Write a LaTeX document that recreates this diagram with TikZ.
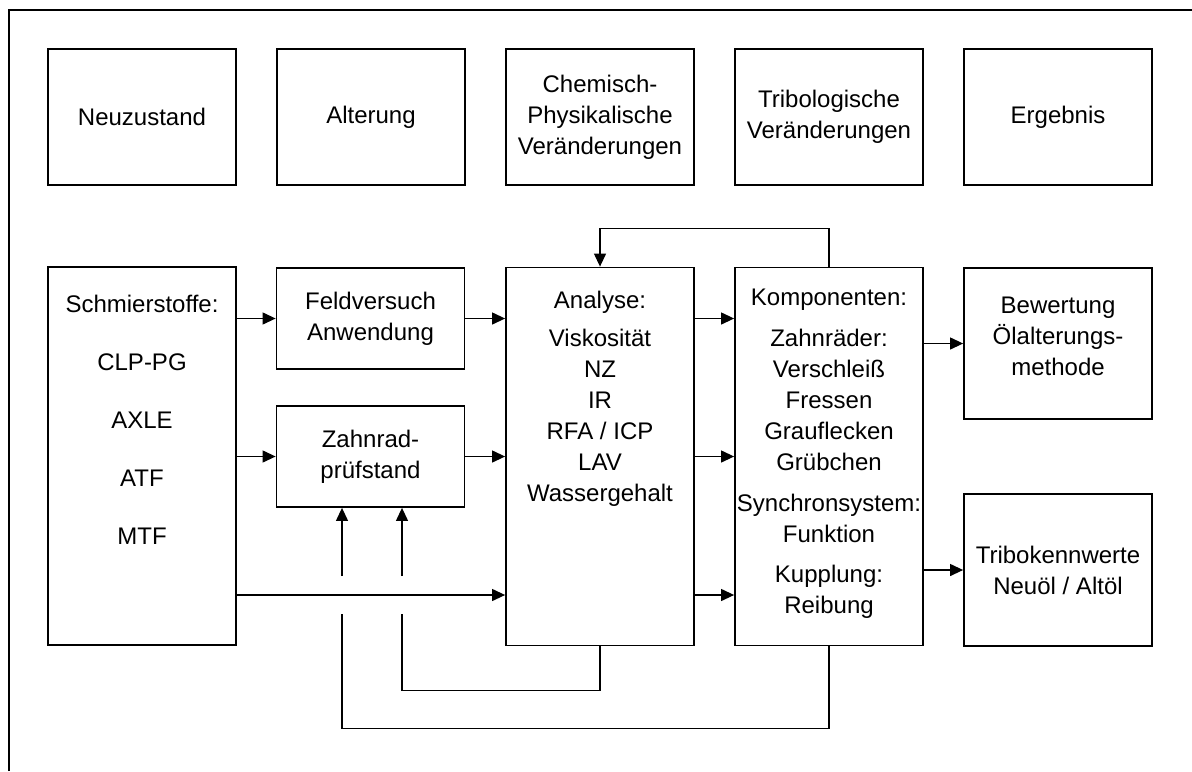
\documentclass[tikz,border=0pt]{standalone}
\usepackage{fontspec}
\setmainfont{Liberation Sans}
\usetikzlibrary{arrows.meta}

\begin{document}
\begin{tikzpicture}[x=0.5pt,y=-0.5pt,
    every node/.style={font=\fontsize{12}{15.5}\selectfont, align=center, inner sep=0pt},
    box/.style={draw, line width=0.9pt, minimum width=94pt},
    kopf/.style={box, minimum height=68pt},
    klein/.style={box, minimum height=50.5pt},
    hoch/.style={box, minimum height=189pt},
    arr/.style={line width=0.6pt, -{Triangle[length=6.5pt,width=6pt]}},
    lin/.style={line width=0.6pt}]
  \useasboundingbox (0,0) rectangle (1192,771);
  \draw[line width=0.7pt] (9,771) -- (9,10) -- (1192,10);

  % Kopfzeile
  \node[kopf] (neu)   at (142,117)  {Neuzustand};
  \node[kopf] (alt)   at (371,117)  {Alterung};
  \node[kopf] (chem)  at (600,117)  {Chemisch-\\Physikalische\\Veränderungen};
  \node[kopf] (tribo) at (829,117)  {Tribologische\\Veränderungen};
  \node[kopf] (erg)   at (1058,117) {Ergebnis};

  % Ablauf
  \node[hoch] (schmier) at (142,456) {};
  \node (schmiertxt) at (142,420) {Schmierstoffe:\\[13.5pt] CLP-PG\\[13.5pt] AXLE\\[13.5pt] ATF\\[13.5pt] MTF};
  \node[klein] (feld) at (370.5,318.5) {Feldversuch\\Anwendung};
  \node[klein] (zahn) at (370.5,456.5) {Zahnrad-\\prüfstand};
  \node[hoch] (analyse) at (600,456.5) {};
  \node (analysetxt) at (600,399) {Analyse:\\[3.5pt] Viskosität\\NZ\\IR\\RFA / ICP\\LAV\\Wassergehalt};
  \node[hoch] (komp) at (829,456.5) {};
  \node (komptxt) at (829,454) {Komponenten:\\[5pt] Zahnräder:\\Verschleiß\\Fressen\\Grauflecken\\Grübchen\\[5pt] Synchronsystem:\\Funktion\\[4.5pt] Kupplung:\\Reibung};
  \node[box, minimum height=75.5pt] (bew) at (1058,343.5) {};
  \node (bewtxt) at (1058,336) {Bewertung\\Ölalterungs-\\methode};
  \node[box, minimum height=76pt] (kenn) at (1058,570) {Tribokennwerte\\Neuöl / Altöl};

  \coordinate (reihe3) at (0,595);
  \coordinate (j1hi) at (402,576);
  \coordinate (j1lo) at (402,614);
  \coordinate (j2hi) at (342,576);
  \coordinate (j2lo) at (342,614);

  \draw[arr] (schmier.east |- feld) -- (feld);
  \draw[arr] (schmier.east |- zahn) -- (zahn);
  \draw[arr] (schmier.east |- reihe3) -- (analyse.west |- reihe3);
  \draw[arr] (feld) -- (analyse.west |- feld);
  \draw[arr] (zahn) -- (analyse.west |- zahn);
  \draw[arr] (analyse.east |- feld) -- (komp.west |- feld);
  \draw[arr] (analyse.east |- zahn) -- (komp.west |- zahn);
  \draw[arr] (analyse.east |- reihe3) -- (komp.west |- reihe3);
  \draw[arr] (komp.east |- bew) -- (bew);
  \draw[arr] (komp.east |- kenn) -- (kenn);

  % Rueckfuehrungen
  \draw[arr] (komp.north) -- ++(0,-38) -| (analyse.north);
  \draw[lin] (analyse.south) -- ++(0,44) -| (j1lo);
  \draw[arr] (j1hi) -- (j1hi |- zahn.south);
  \draw[lin] (komp.south) -- ++(0,82) -| (j2lo);
  \draw[arr] (j2hi) -- (j2hi |- zahn.south);
\end{tikzpicture}
\end{document}
